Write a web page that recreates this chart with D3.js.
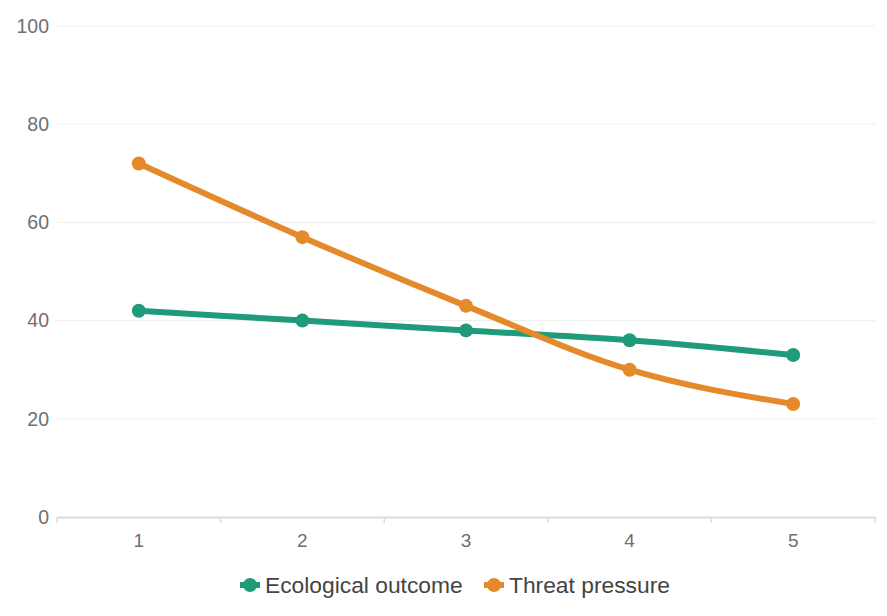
<!DOCTYPE html>
<html><head><meta charset="utf-8">
<script src="https://cdn.jsdelivr.net/npm/d3@7"></script>
<style>body{margin:0;background:#fff;}svg{display:block;font-family:"Liberation Sans",Arial,sans-serif;}</style>
</head><body>
<svg id="c" width="887" height="616"></svg>
<script>
const categories = ["1","2","3","4","5"];
const ecological = [42, 40, 38, 36, 33];
const threat = [72, 57, 43, 30, 23];
const yTicks = [0, 20, 40, 60, 80, 100];
const seriesNames = ["Ecological outcome", "Threat pressure"];
const colors = ["#1f9b7b", "#e48a2a"];

const svg = d3.select("#c");
const x = d3.scaleBand().domain(categories).range([57, 875]);
const y = d3.scaleLinear().domain([0, 100]).range([517, 26]);

// grid
svg.append("g").selectAll("line").data(yTicks.filter(d => d > 0)).join("line")
  .attr("x1", 57).attr("x2", 875)
  .attr("y1", d => y(d)).attr("y2", d => y(d))
  .attr("stroke", "#eeeeee").attr("stroke-width", 1);

// y labels
const yAxis = d3.axisLeft(y).tickValues(yTicks).tickSize(0).tickPadding(0);
const ya = svg.append("g").attr("transform", "translate(49,0)").call(yAxis);
ya.select(".domain").remove();
ya.selectAll("text").attr("fill", "#707070").attr("font-size", 19.5).attr("font-family", "Liberation Sans, Arial, sans-serif");

// x axis
const xAxis = d3.axisBottom(x).tickSize(0).tickPadding(17);
const xa = svg.append("g").attr("transform", "translate(0,517)").call(xAxis);
xa.select(".domain").attr("stroke", "#dcdcdc").attr("stroke-width", 2);
xa.selectAll("text").attr("fill", "#707070").attr("font-size", 19).attr("font-family", "Liberation Sans, Arial, sans-serif");
const bounds = categories.map(c => x(c)).concat([x.range()[1]]);
svg.append("g").selectAll("line").data(bounds).join("line")
  .attr("x1", d => d).attr("x2", d => d).attr("y1", 517).attr("y2", 523)
  .attr("stroke", "#dcdcdc").attr("stroke-width", 1.5);

const cx = c => x(c) + x.bandwidth() / 2;
const line = d3.line().x((d, i) => cx(categories[i])).y(d => y(d)).curve(d3.curveMonotoneX);

[ecological, threat].forEach((s, k) => {
  svg.append("path").datum(s).attr("d", line).attr("fill", "none")
    .attr("stroke", colors[k]).attr("stroke-width", 6).attr("stroke-linejoin", "round").attr("stroke-linecap", "round");
  svg.append("g").selectAll("circle").data(s).join("circle")
    .attr("cx", (d, i) => cx(categories[i])).attr("cy", d => y(d)).attr("r", 7)
    .attr("fill", colors[k]);
});

// legend
const legendItems = [{x: 250, i: 0}, {x: 494, i: 1}];
legendItems.forEach(({x: lx, i}) => {
  const g = svg.append("g").attr("transform", `translate(${lx},585)`);
  g.append("line").attr("x1", -10).attr("x2", 10).attr("y1", 0).attr("y2", 0)
    .attr("stroke", colors[i]).attr("stroke-width", 6);
  g.append("circle").attr("r", 7).attr("fill", colors[i]);
  g.append("text").attr("x", 15).attr("y", 0).attr("dy", "0.35em")
    .attr("font-size", 22.8).attr("fill", "#444").text(seriesNames[i]);
});
</script>
</body></html>
